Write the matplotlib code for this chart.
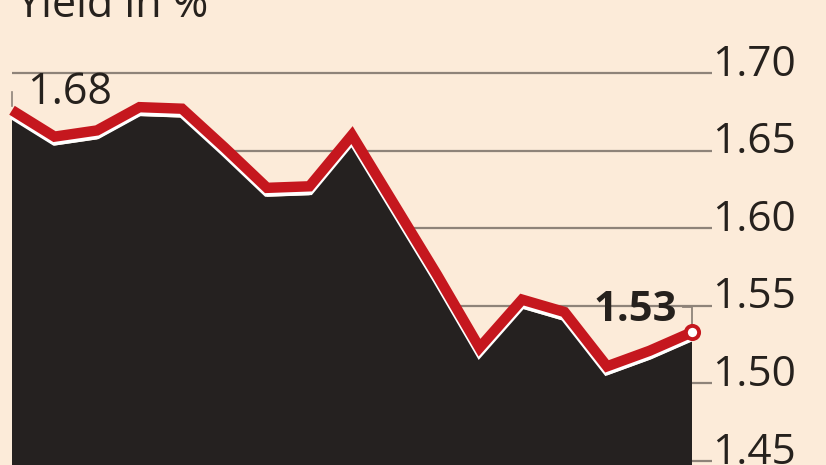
import matplotlib
matplotlib.use("Agg")
import matplotlib.pyplot as plt
from matplotlib.transforms import ScaledTranslation

# ---- data ----
days = list(range(17))
yields = [1.676, 1.659, 1.663, 1.678, 1.677, 1.652, 1.626, 1.627, 1.660,
          1.615, 1.570, 1.523, 1.554, 1.546, 1.511, 1.521, 1.533]
tick_values = [1.45, 1.50, 1.55, 1.60, 1.65, 1.70]
tick_labels = ["1.45", "1.50", "1.55", "1.60", "1.65", "1.70"]
title = "Yield in %"

# ---- style ----
BG = "#fcebd9"
FILL = "#252120"
RED = "#c5171e"
GRID = "#8e8379"
TXT = "#26211d"
FONT = "Open Sans"

W, H, DPI = 826, 465, 100
fig = plt.figure(figsize=(W / DPI, H / DPI), dpi=DPI, facecolor=BG)
ax = fig.add_axes([0, 0, 1, 1])
ax.set_facecolor(BG)
for s in ax.spines.values():
    s.set_visible(False)
ax.set_xticks([])
ax.set_yticks([])

# pixel mapping
x0_px, dx_px = 12, 42.5
y170_px, dy_px = 73, 77.6 / 0.05
ax.set_xlim(-x0_px / dx_px, (W - x0_px) / dx_px)
ax.set_ylim(1.70 - (H - y170_px) / dy_px, 1.70 + y170_px / dy_px)

# gridlines
grid_end = days[-1] + 0.48
ax.hlines(tick_values, days[0], grid_end, color=GRID, lw=1.6, zorder=1)
for v, lab in zip(tick_values, tick_labels):
    ax.text(grid_end + 0.0, v, lab, ha="left", va="baseline", fontsize=30.5,
            family=FONT, color=TXT, zorder=5,
            transform=ax.transData + ScaledTranslation(0, -0.025, fig.dpi_scale_trans))

# area fill (shifted down below the line)
fill_tr = ax.transData + ScaledTranslation(0, -0.09, fig.dpi_scale_trans)
ax.fill_between(days, yields, 1.0, color=FILL, lw=0, zorder=2, transform=fill_tr)

# white separator and red line
white_tr = ax.transData + ScaledTranslation(0, -0.04, fig.dpi_scale_trans)
ax.plot(days, yields, color="white", lw=7, zorder=3, transform=white_tr,
        solid_joinstyle="miter", solid_capstyle="butt")
ax.plot(days, yields, color=RED, lw=7.5, zorder=4,
        solid_joinstyle="miter", solid_capstyle="butt")

# end marker
ax.plot(days[-1], yields[-1], "o", ms=9.5, mfc="white", mec=RED, mew=2.8, zorder=6)

# annotations
first_lab = f"{yields[0]:.2f}"
last_lab = f"{yields[-1]:.2f}"
ax.text(days[0] + 0.36, yields[0] + 0.004, first_lab, ha="left", va="baseline",
        fontsize=31, family=FONT, color=TXT, zorder=7)
ax.plot([days[0], days[0]], [yields[0] + 0.003, yields[0] + 0.012], color=GRID, lw=1.2, zorder=3)

ax.text(days[-1] - 0.36, yields[-1] + 0.0075, last_lab, ha="right", va="baseline",
        fontsize=30, fontweight="bold", family=FONT, color=TXT, zorder=7)
lead_y = yields[-1] + 0.0165
ax.plot([days[-1] - 0.22, days[-1], days[-1]], [lead_y, lead_y, yields[-1] + 0.003],
        color=GRID, lw=1.3, zorder=5)

# title (clipped at top like the reference)
fig.text(17 / W, 1 - 17 / H, title, ha="left", va="baseline", fontsize=31,
         family=FONT, color=TXT)

fig.savefig("out.png", dpi=DPI, facecolor=BG)
